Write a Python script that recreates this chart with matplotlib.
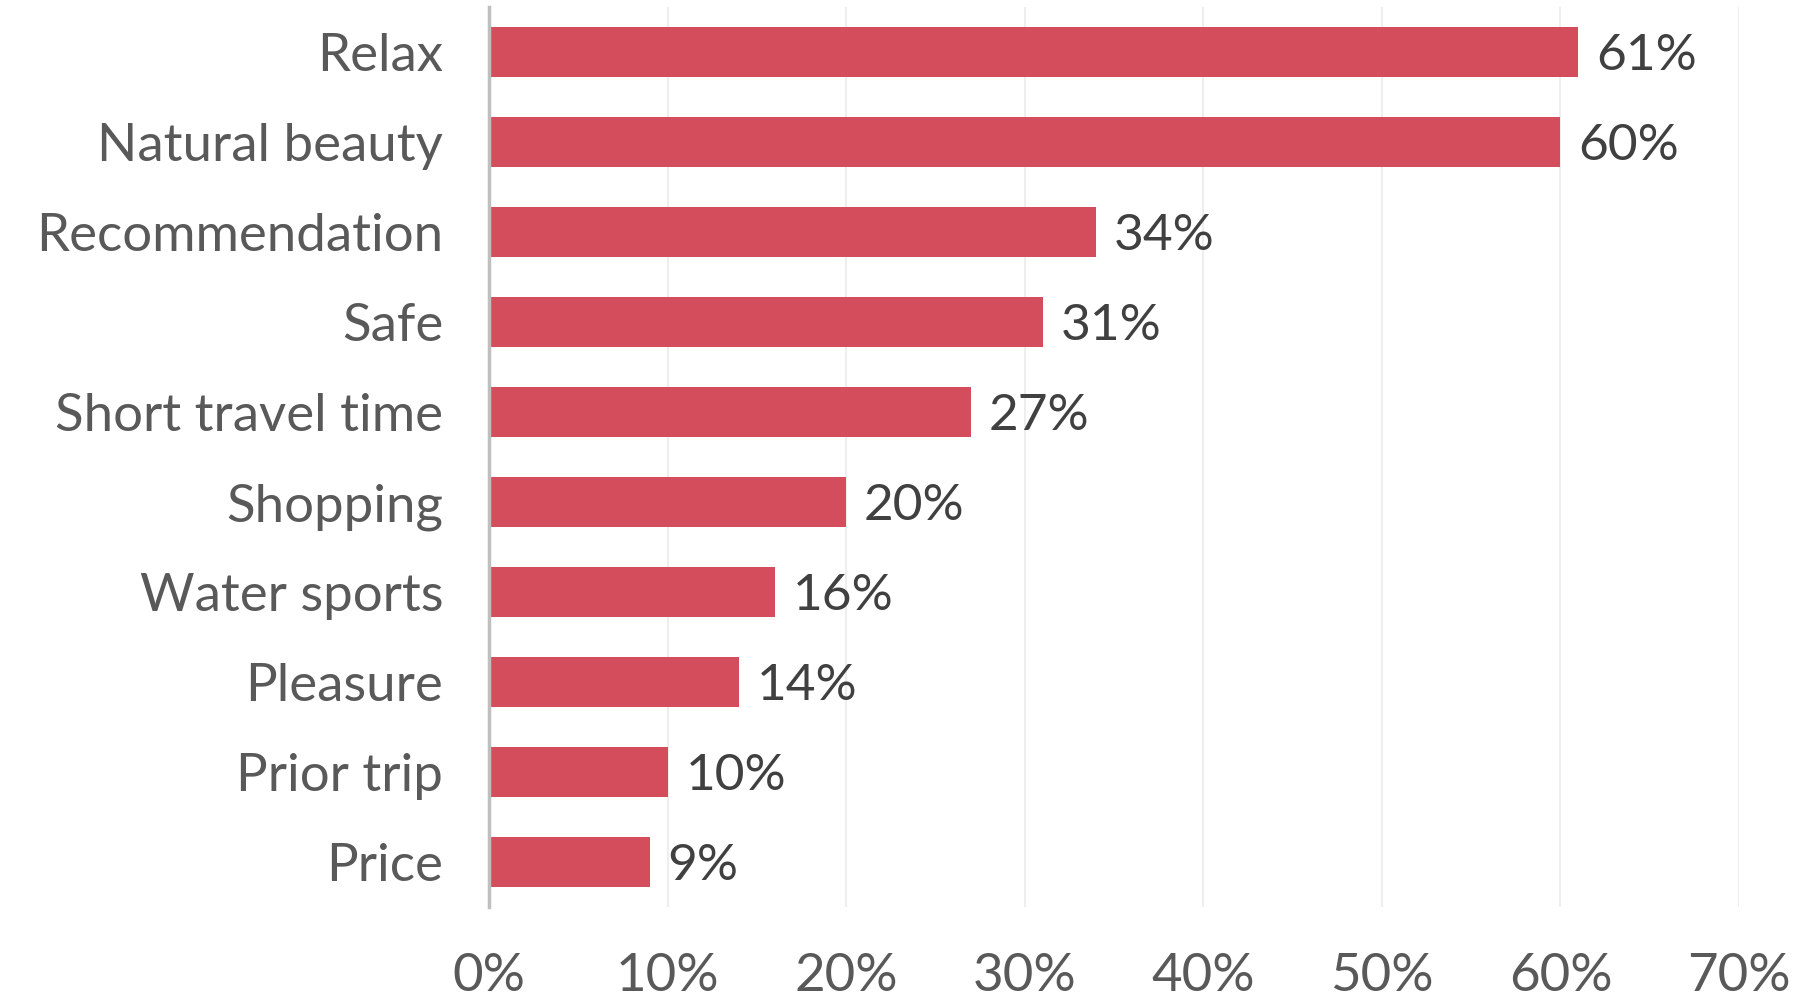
import matplotlib
matplotlib.use("Agg")
import matplotlib.pyplot as plt
from matplotlib.ticker import FuncFormatter

# Reasons for choosing the destination (share of respondents)
reasons = ["Relax", "Natural beauty", "Recommendation", "Safe", "Short travel time",
           "Shopping", "Water sports", "Pleasure", "Prior trip", "Price"]
shares = [61, 60, 34, 31, 27, 20, 16, 14, 10, 9]
xticks = [0, 10, 20, 30, 40, 50, 60, 70]

plt.rcParams['font.family'] = ['Lato', 'DejaVu Sans']

fig = plt.figure(figsize=(18.1, 10.02), dpi=100)
ax = fig.add_axes([0.2702, 0.0948, 0.6906, 0.8982])

ypos = list(range(len(reasons)))
ax.barh(ypos, shares, height=0.556, color="#D44D5C", zorder=2)

for y, v in zip(ypos, shares):
    ax.text(v + 1.0, y + 0.04, f"{v}%", va="center", ha="left",
            fontsize=37, color="#404040")

ax.set_xlim(0, 70)
ax.set_ylim(len(reasons) - 0.5, -0.5)
ax.set_yticks(ypos)
ax.set_yticklabels(reasons, fontsize=38, color="#595959")
ax.set_xticks(xticks)
ax.xaxis.set_major_formatter(FuncFormatter(lambda v, p: f"{v:.0f}%"))
ax.tick_params(axis="x", labelsize=38, labelcolor="#595959", length=0, pad=33)
ax.tick_params(axis="y", length=0, pad=33)

ax.grid(axis="x", color="#EEEEEE", linewidth=1.5, zorder=0)
ax.set_axisbelow(True)
for s in ["top", "right", "bottom"]:
    ax.spines[s].set_visible(False)
ax.spines["left"].set_color("#BFBFBF")
ax.spines["left"].set_linewidth(2.5)
ax.spines["left"].set_zorder(3)

fig.savefig("out.png", dpi=100)
